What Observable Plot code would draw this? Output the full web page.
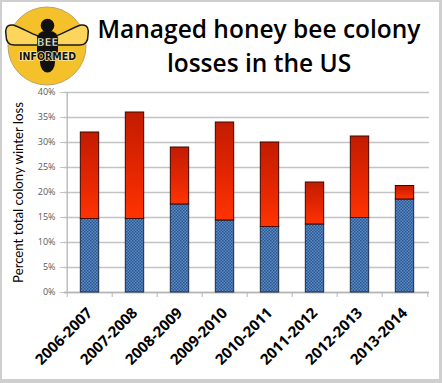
<!DOCTYPE html>
<html>
<head>
<meta charset="utf-8">
<script src="https://cdn.jsdelivr.net/npm/d3@7"></script>
<script src="https://cdn.jsdelivr.net/npm/@observablehq/plot@0.6"></script>
<style>
  html, body { margin: 0; padding: 0; background: #fff; }
  #wrap { position: relative; width: 442px; height: 383px; overflow: hidden; background: #fff; }
  #wrap > svg { position: absolute; left: 0; top: 0; }
  #border { position: absolute; inset: 0; border-style: solid; border-color: #cfcfcf;
            border-width: 2px 3px 4px 2px; pointer-events: none; }
</style>
</head>
<body>
<div id="wrap">
  <div id="border"></div>
</div>
<script>
const years = ["2006-2007","2007-2008","2008-2009","2009-2010","2010-2011","2011-2012","2012-2013","2013-2014"];
const baseLoss  = [14.7, 14.7, 17.6, 14.4, 13.1, 13.6, 14.9, 18.6];
const totalLoss = [32.0, 36.0, 29.0, 34.0, 30.0, 22.0, 31.2, 21.3];
const yTicks = [0, 5, 10, 15, 20, 25, 30, 35, 40];
const yLabel = "Percent total colony winter loss";
const titleLines = ["Managed honey bee colony", "losses in the US"];

const rows = years.map((y, i) => ({year: y, base: baseLoss[i], total: totalLoss[i]}));

const W = 442, H = 383, mL = 64, mR = 13, mT = 92, mB = 91;
const step = (W - mL - mR) / years.length;
const ins = (step - 19) / 2;

const chart = Plot.plot({
  width: W, height: H,
  marginLeft: mL, marginRight: mR, marginTop: mT, marginBottom: mB,
  style: {fontFamily: "Open Sans", background: "transparent", overflow: "visible"},
  x: {domain: years, padding: 0, label: null},
  y: {domain: [0, 40], label: null},
  marks: [
    Plot.ruleY(yTicks, {stroke: "#c3c3c3", strokeWidth: 1.3}),
    Plot.axisY({ticks: yTicks, tickFormat: d => d + "%", tickSize: 4, tickPadding: 5,
                stroke: "#c3c3c3", fill: "#5a5a5a", fontSize: 9, label: null}),
    Plot.text([yLabel], {frameAnchor: "left", dx: -46, rotate: -90, textAnchor: "middle",
                fontSize: 13.2, fontFamily: "Lato", fill: "#000"}),
    Plot.axisX({tickSize: 5, tickFormat: () => "", dx: -step / 2, stroke: "#b5b5b5", label: null}),
    Plot.axisX({ticks: [years[years.length - 1]], tickSize: 5, tickFormat: () => "", dx: step / 2, stroke: "#b5b5b5", label: null}),
    Plot.axisX({tickSize: 0, tickRotate: -45, tickPadding: 18, fontSize: 15, fontWeight: "bold",
                fill: "#000", label: null}),
    Plot.ruleY([0], {stroke: "#b5b5b5", strokeWidth: 1.3}),
    Plot.ruleX([years[0]], {dx: -step / 2, y1: 0, y2: 40, stroke: "#b5b5b5", strokeWidth: 1.3}),
    Plot.barY(rows, {x: "year", y1: 0, y2: "base", fill: "url(#blueHatch)",
                     stroke: "#1c2c48", strokeWidth: 1, insetLeft: ins, insetRight: ins}),
    Plot.barY(rows, {x: "year", y1: "base", y2: "total", fill: "url(#redGrad)",
                     stroke: "#3a0600", strokeWidth: 1, insetLeft: ins, insetRight: ins})
  ]
});

const svg = d3.select(chart);
const defs = svg.insert("defs", ":first-child");
const grad = defs.append("linearGradient").attr("id", "redGrad")
  .attr("x1", 0).attr("y1", 0).attr("x2", 0).attr("y2", 1);
grad.append("stop").attr("offset", "0%").attr("stop-color", "#c21c00");
grad.append("stop").attr("offset", "55%").attr("stop-color", "#e42600");
grad.append("stop").attr("offset", "100%").attr("stop-color", "#ff3300");
const pat = defs.append("pattern").attr("id", "blueHatch")
  .attr("patternUnits", "userSpaceOnUse").attr("width", 3).attr("height", 3);
pat.append("rect").attr("width", 3).attr("height", 3).attr("fill", "#5b8ccb");
pat.append("rect").attr("x", 0).attr("y", 0).attr("width", 1.5).attr("height", 1.5).attr("fill", "#2c5589");
pat.append("rect").attr("x", 1.5).attr("y", 1.5).attr("width", 1.5).attr("height", 1.5).attr("fill", "#2c5589");

// Header: logo and title
const head = svg.append("g");
const logo = head.append("g");
logo.append("circle").attr("cx", 47).attr("cy", 46).attr("r", 39)
  .attr("fill", "#f4c12a").attr("stroke", "#b9a36a").attr("stroke-width", 1);
const wingL = "M38,36 C30,33 20,27 13,25 C6,24 5,30 6,35 C6,41 8,45 14,45 C22,45 30,45 38,45 Z";
logo.append("path").attr("d", wingL).attr("fill", "#fcd65c").attr("stroke", "#1a1a1a").attr("stroke-width", 1.5);
logo.append("path").attr("d", wingL).attr("transform", "translate(94,0) scale(-1,1)")
  .attr("fill", "#fcd65c").attr("stroke", "#1a1a1a").attr("stroke-width", 1.5);
logo.append("circle").attr("cx", 47.5).attr("cy", 25.5).attr("r", 6.8).attr("fill", "#111");
logo.append("rect").attr("x", 37).attr("y", 31).attr("width", 21).attr("height", 31).attr("rx", 8).attr("fill", "#111");
logo.append("ellipse").attr("cx", 47.5).attr("cy", 62).attr("rx", 7.5).attr("ry", 10.5).attr("fill", "#111");
logo.append("text").attr("x", 47.5).attr("y", 46).attr("text-anchor", "middle")
  .attr("font-family", "DejaVu Sans").attr("font-weight", "bold").attr("font-size", 10.5)
  .attr("fill", "#fbf2d0").attr("stroke", "#111").attr("stroke-width", 0.6).attr("letter-spacing", -0.3).text("BEE");
logo.append("text").attr("x", 47.5).attr("y", 60).attr("text-anchor", "middle")
  .attr("font-family", "DejaVu Sans").attr("font-weight", "bold").attr("font-size", 10.2)
  .attr("textLength", 57).attr("lengthAdjust", "spacingAndGlyphs")
  .attr("fill", "#111").attr("stroke", "#f6e7a8").attr("stroke-width", 1.6).attr("paint-order", "stroke").text("INFORMED");
head.selectAll("text.title").data(titleLines).join("text").attr("class", "title")
  .attr("x", 259).attr("y", (d, i) => 38 + i * 34).attr("text-anchor", "middle")
  .attr("font-family", "Open Sans").attr("font-weight", "600").attr("font-size", 24.5)
  .attr("fill", "#000").text(d => d);

const wrap = document.getElementById("wrap");
wrap.insertBefore(chart, wrap.firstChild);
</script>
</body>
</html>
